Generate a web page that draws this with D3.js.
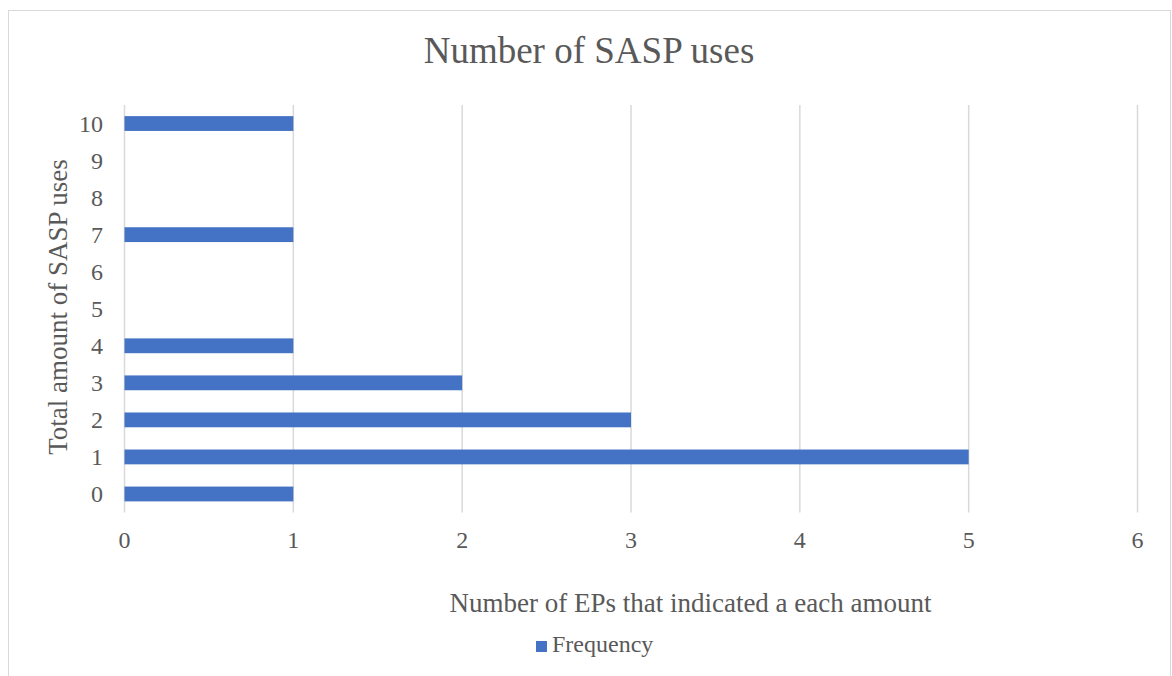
<!DOCTYPE html>
<html>
<head>
<meta charset="utf-8">
<script src="https://cdn.jsdelivr.net/npm/d3@7"></script>
<style>
  body { margin: 0; background: #fff; }
  text { font-family: "Liberation Serif", "Times New Roman", serif; fill: #595959; }
</style>
</head>
<body>
<script>
var categories = ['0', '1', '2', '3', '4', '5', '6', '7', '8', '9', '10']
var frequency = [1, 5, 3, 2, 1, 0, 0, 1, 0, 0, 1]
var xTicks = [0, 1, 2, 3, 4, 5, 6]

var width = 1172, height = 676
var plot = { left: 124.5, right: 1137.5, top: 105, bottom: 512.5 }

var svg = d3.select('body').append('svg')
	.attr('width', width)
	.attr('height', height)

// chart border
svg.append('rect')
	.attr('x', 8.5).attr('y', 10.5)
	.attr('width', 1162).attr('height', 700)
	.attr('fill', 'none')
	.attr('stroke', '#d9d9d9')

var x = d3.scaleLinear().domain([0, 6]).range([plot.left, plot.right])
var y = d3.scaleBand().domain(categories.slice().reverse())
	.range([plot.top, plot.bottom]).paddingInner(0.6).paddingOuter(0.3)

// gridlines
svg.append('g').selectAll('line').data(xTicks).enter().append('line')
	.attr('x1', function(d){ return x(d) })
	.attr('x2', function(d){ return x(d) })
	.attr('y1', plot.top)
	.attr('y2', plot.bottom)
	.attr('stroke', '#d9d9d9')
	.attr('stroke-width', 1.5)

// bars
svg.append('g').selectAll('rect').data(categories).enter().append('rect')
	.attr('x', x(0))
	.attr('y', function(d){ return y(d) })
	.attr('height', y.bandwidth())
	.attr('width', function(d, i){ return x(frequency[i]) - x(0) })
	.attr('fill', '#4472c4')

// x tick labels
svg.append('g').selectAll('text').data(xTicks).enter().append('text')
	.attr('x', function(d){ return x(d) })
	.attr('y', 548)
	.attr('text-anchor', 'middle')
	.attr('font-size', 24)
	.text(function(d){ return d })

// y tick labels
svg.append('g').selectAll('text').data(categories).enter().append('text')
	.attr('x', 103)
	.attr('y', function(d){ return y(d) + y.bandwidth() / 2 + 8 })
	.attr('text-anchor', 'end')
	.attr('font-size', 24)
	.text(function(d){ return d })

// titles
svg.append('text')
	.attr('x', 589).attr('y', 63)
	.attr('text-anchor', 'middle')
	.attr('font-size', 37)
	.text('Number of SASP uses')

svg.append('text')
	.attr('x', 690.5).attr('y', 612)
	.attr('text-anchor', 'middle')
	.attr('font-size', 27)
	.text('Number of EPs that indicated a each amount')

svg.append('text')
	.attr('transform', 'translate(67,307) rotate(-90)')
	.attr('text-anchor', 'middle')
	.attr('font-size', 27)
	.text('Total amount of SASP uses')

// legend
var legend = svg.append('g')
legend.append('rect')
	.attr('x', 536).attr('y', 641)
	.attr('width', 11).attr('height', 11)
	.attr('fill', '#4472c4')
legend.append('text')
	.attr('x', 552).attr('y', 652)
	.attr('font-size', 24)
	.text('Frequency')
</script>
</body>
</html>
